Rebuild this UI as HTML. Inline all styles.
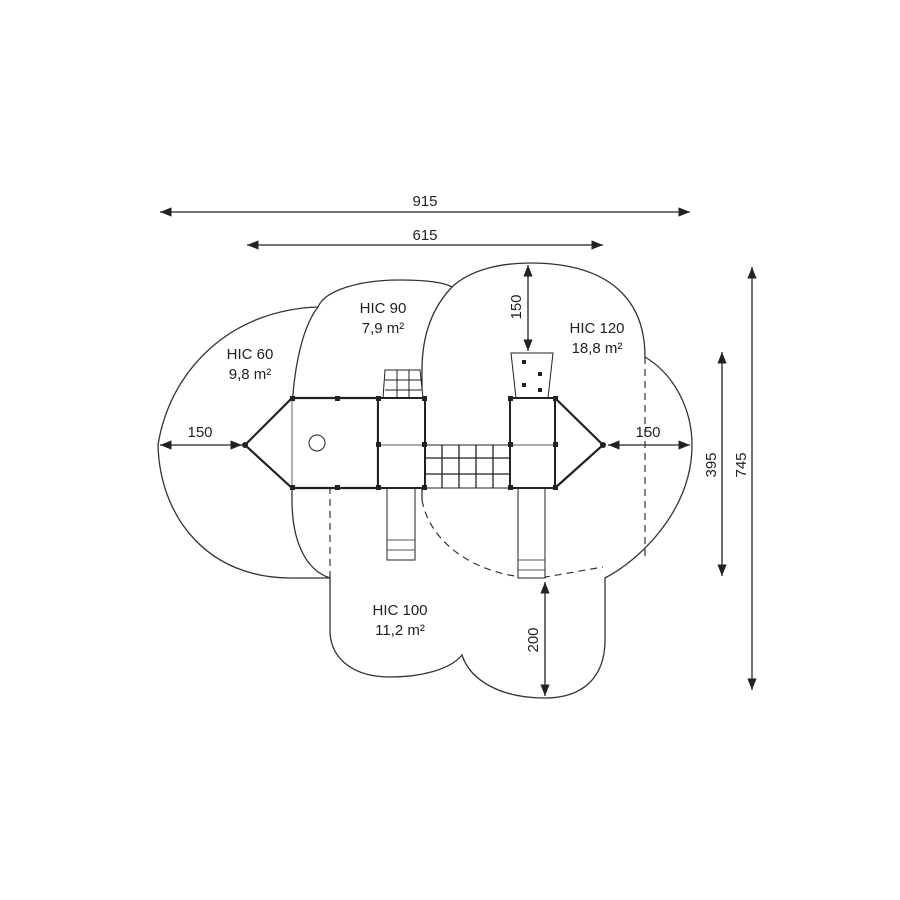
<!DOCTYPE html>
<html><head><style>body{margin:0;background:#fff}svg{display:block}text{font-family:"Liberation Sans",sans-serif;font-size:15px;fill:#222;text-anchor:middle}</style></head><body>
<svg width="900" height="900" viewBox="0 0 900 900">
<defs><marker id="a" viewBox="0 0 10 10" refX="10" refY="5" markerWidth="9" markerHeight="9" orient="auto-start-reverse"><path d="M0,1 L10,5 L0,9 z" fill="#222"/></marker></defs>
<g stroke="#333" stroke-width="1.3" fill="none">
<path d="M158,445 C170,370 230,310 318,307 C325,290 360,280 400,280 C430,280 445,283 452,287 C470,270 500,263 530,263 C610,263 645,300 645,357 C675,375 692,410 692,445 C692,510 640,560 605,578 L605,640 C605,680 580,698 545,698 C500,698 470,680 462,655 C450,670 420,677 390,677 C355,677 330,660 330,630 L330,578 L290,578 C210,578 160,520 158,445 Z"/>
<path d="M318,307 C300,330 292,380 292,420 L292,500 C292,540 305,570 330,578"/>
<path d="M452,287 C430,310 422,340 422,370 L422,500"/>
</g>
<g stroke="#333" stroke-width="1.2" fill="none" stroke-dasharray="7,5">
<path d="M422,500 C430,545 480,578 540,578 L603,567"/>
<path d="M645,357 L645,560"/>
<path d="M330,578 L330,483 L378,483"/>
</g>
<g stroke="#222" stroke-width="1.3">
<line x1="160" y1="212" x2="690" y2="212" marker-start="url(#a)" marker-end="url(#a)"/>
<line x1="247" y1="245" x2="603" y2="245" marker-start="url(#a)" marker-end="url(#a)"/>
<line x1="722" y1="352" x2="722" y2="576" marker-start="url(#a)" marker-end="url(#a)"/>
<line x1="752" y1="267" x2="752" y2="690" marker-start="url(#a)" marker-end="url(#a)"/>
<line x1="528" y1="265" x2="528" y2="351" marker-start="url(#a)" marker-end="url(#a)"/>
<line x1="545" y1="582" x2="545" y2="696" marker-start="url(#a)" marker-end="url(#a)"/>
<line x1="160" y1="445" x2="242" y2="445" marker-start="url(#a)" marker-end="url(#a)"/>
<line x1="608" y1="445" x2="690" y2="445" marker-start="url(#a)" marker-end="url(#a)"/>
</g>
<g stroke="#222" fill="#fff">
<path d="M383,398 L385,370 L420,370 L423,398" stroke-width="1"/>
<path d="M385,380 H421 M385,390 H422 M397,370 V398 M409,370 V398" stroke-width="1"/>
<path d="M511,353 L553,353 L548,398 L516,398 Z" stroke-width="1"/>
<rect x="387" y="488" width="28" height="72" stroke-width="1"/>
<path d="M387,540 H415 M387,550 H415" stroke-width="0.8"/>
<rect x="518" y="488" width="27" height="90" stroke-width="1"/>
<path d="M518,560 H545 M518,570 H545" stroke-width="0.8"/>
<rect x="425" y="445" width="85" height="43" stroke-width="1"/>
<path d="M425,458 H510 M425,474 H510 M442,445 V488 M459,445 V488 M476,445 V488 M493,445 V488" stroke-width="1.3" fill="none"/>
<path d="M245,445 L292,398 L378,398 L378,488 L292,488 Z" stroke-width="2.2"/>
<line x1="292" y1="398" x2="292" y2="488" stroke-width="0.7"/>
<rect x="378" y="398" width="47" height="90" stroke-width="2"/>
<rect x="510" y="398" width="45" height="90" stroke-width="2"/>
<path d="M555,398 L603,445 L555,488" stroke-width="2.2" fill="none"/>
<path d="M378,445 H425 M510,445 H555" stroke-width="0.8" fill="none"/>
<circle cx="317" cy="443" r="8" stroke-width="1"/>
</g>
<g fill="#222">
<rect x="290" y="396" width="5" height="5"/><rect x="335" y="396" width="5" height="5"/><rect x="290" y="485" width="5" height="5"/><rect x="335" y="485" width="5" height="5"/>
<rect x="376" y="396" width="5" height="5"/><rect x="422" y="396" width="5" height="5"/><rect x="376" y="485" width="5" height="5"/><rect x="422" y="485" width="5" height="5"/><rect x="422" y="442" width="5" height="5"/><rect x="376" y="442" width="5" height="5"/>
<rect x="508" y="396" width="5" height="5"/><rect x="553" y="396" width="5" height="5"/><rect x="508" y="485" width="5" height="5"/><rect x="553" y="485" width="5" height="5"/><rect x="508" y="442" width="5" height="5"/><rect x="553" y="442" width="5" height="5"/>
<circle cx="245" cy="445" r="3"/><circle cx="603" cy="445" r="3"/>
<rect x="522" y="360" width="4" height="4"/><rect x="538" y="372" width="4" height="4"/><rect x="522" y="383" width="4" height="4"/><rect x="538" y="388" width="4" height="4"/>
</g>
<text x="425" y="206">915</text>
<text x="425" y="240">615</text>
<text x="200" y="437">150</text>
<text x="648" y="437">150</text>
<text x="250" y="359">HIC 60</text><text x="250" y="379">9,8 m²</text>
<text x="383" y="313">HIC 90</text><text x="383" y="333">7,9 m²</text>
<text x="597" y="333">HIC 120</text><text x="597" y="353">18,8 m²</text>
<text x="400" y="615">HIC 100</text><text x="400" y="635">11,2 m²</text>
<text transform="translate(521,307) rotate(-90)">150</text>
<text transform="translate(538,640) rotate(-90)">200</text>
<text transform="translate(716,465) rotate(-90)">395</text>
<text transform="translate(746,465) rotate(-90)">745</text>
</svg>
</body></html>
